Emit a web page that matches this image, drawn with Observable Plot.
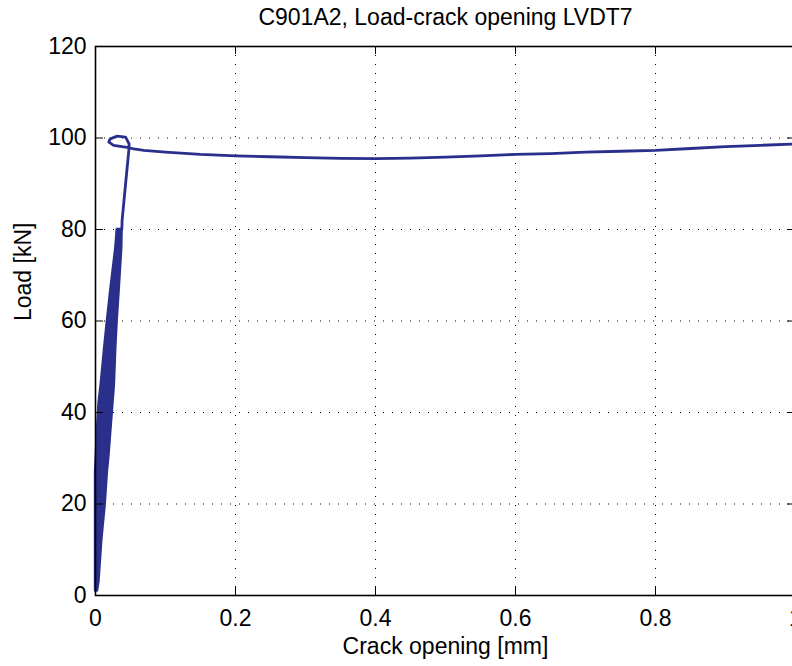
<!DOCTYPE html>
<html><head><meta charset="utf-8">
<script src="https://cdn.jsdelivr.net/npm/d3@7"></script>
<script src="https://cdn.jsdelivr.net/npm/@observablehq/plot@0.6"></script>
<style>html,body{margin:0;padding:0;background:#fff;overflow:hidden;width:792px;height:666px}
#chart svg{max-width:none !important;}</style>
</head><body><div id="chart"></div><script>
// Chart texts
const title = "C901A2, Load-crack opening LVDT7";
const xLabel = "Crack opening [mm]";
const yLabel = "Load [kN]";

// Ticks
const xTicks = [0, 0.2, 0.4, 0.6, 0.8, 1];
const xTickLabels = ["0", "0.2", "0.4", "0.6", "0.8", "1"];
const yTicks = [0, 20, 40, 60, 80, 100, 120];

// Cyclic loading band (many unload/reload cycles), read edges
const bandLoad  = [1, 3, 12, 20, 27, 30, 34, 42, 46, 54, 60, 67, 76, 80];
const bandLeft  = [0, 0, 0, 0, 0, 0.001, 0.002, 0.005, 0.008, 0.013, 0.017, 0.022, 0.029, 0.031];
const bandRight = [0.003, 0.005, 0.009, 0.014, 0.017, 0.019, 0.021, 0.025, 0.027, 0.029, 0.031, 0.034, 0.0376, 0.038];

// Main load - crack opening curve after the cycles
const curveX = [0.0376, 0.038, 0.043, 0.0476, 0.048, 0.043, 0.031, 0.021, 0.019, 0.026, 0.038, 0.0476, 0.0547, 0.069,
  0.1, 0.15, 0.2, 0.25, 0.3, 0.35, 0.4, 0.45, 0.5, 0.55, 0.6, 0.65, 0.7, 0.75, 0.8, 0.85, 0.9, 0.95, 1.0];
const curveLoad = [80, 82, 90, 97.3, 98.7, 100.2, 100.4, 99.8, 99.1, 98.4, 98.1, 97.9, 97.6, 97.3,
  96.9, 96.4, 96.1, 95.9, 95.7, 95.55, 95.5, 95.6, 95.8, 96.1, 96.4, 96.6, 96.9, 97.1, 97.3, 97.7, 98.1, 98.4, 98.7];

const band = bandLoad.map((l, i) => ({load: l, left: bandLeft[i], right: bandRight[i]}));
const curve = curveX.map((x, i) => ({x, load: curveLoad[i]}));

const blue = "#2b2f8c";
const font = "Liberation Sans, Arial, Helvetica, sans-serif";
const fs = 23;
const innerW = 700, innerH = 549, tl = 8;

const chart = Plot.plot({
  width: 800,
  height: 666,
  marginLeft: 95,
  marginRight: 5,
  marginTop: 46,
  marginBottom: 71,
  style: {fontFamily: font, background: "white", overflow: "visible", maxWidth: "none"},
  x: {domain: [0, 1], axis: null},
  y: {domain: [0, 120], axis: null},
  marks: [
    Plot.gridX(xTicks.slice(1, -1), {stroke: "black", strokeOpacity: 1, strokeWidth: 1, strokeDasharray: "1,8"}),
    Plot.gridY(yTicks.slice(1, -1), {stroke: "black", strokeOpacity: 1, strokeWidth: 1, strokeDasharray: "1,8"}),
    Plot.areaX(band, {y: "load", x1: "left", x2: "right", fill: blue, stroke: blue, strokeWidth: 2.4}),
    Plot.line(curve, {x: "x", y: "load", stroke: blue, strokeWidth: 2.8, curve: "linear"}),
    Plot.tickX(xTicks, {x: d => d, insetTop: innerH - tl, stroke: "black", strokeWidth: 1}),
    Plot.tickX(xTicks, {x: d => d, insetBottom: innerH - tl, stroke: "black", strokeWidth: 1}),
    Plot.tickY(yTicks, {y: d => d, insetRight: innerW - tl, stroke: "black", strokeWidth: 1}),
    Plot.tickY(yTicks, {y: d => d, insetLeft: innerW - tl, stroke: "black", strokeWidth: 1}),
    Plot.frame({stroke: "black", strokeWidth: 1.6}),
    Plot.text(xTicks, {x: d => d, text: (d, i) => xTickLabels[i], frameAnchor: "bottom", dy: 30, lineAnchor: "bottom", textAnchor: "middle", fontSize: fs, fill: "black"}),
    Plot.text(yTicks, {y: d => d, text: d => String(d), frameAnchor: "left", dx: -9, textAnchor: "end", lineAnchor: "middle", fontSize: fs, fill: "black"}),
    Plot.text([title], {text: d => d, frameAnchor: "top", dy: -22, lineAnchor: "bottom", fontSize: fs, fill: "black"}),
    Plot.text([xLabel], {text: d => d, frameAnchor: "bottom", dy: 58, lineAnchor: "bottom", fontSize: fs, fill: "black"}),
    Plot.text([yLabel], {text: d => d, frameAnchor: "left", dx: -65, rotate: -90, lineAnchor: "bottom", fontSize: fs, fill: "black"})
  ]
});
document.getElementById("chart").appendChild(chart);
</script></body></html>
